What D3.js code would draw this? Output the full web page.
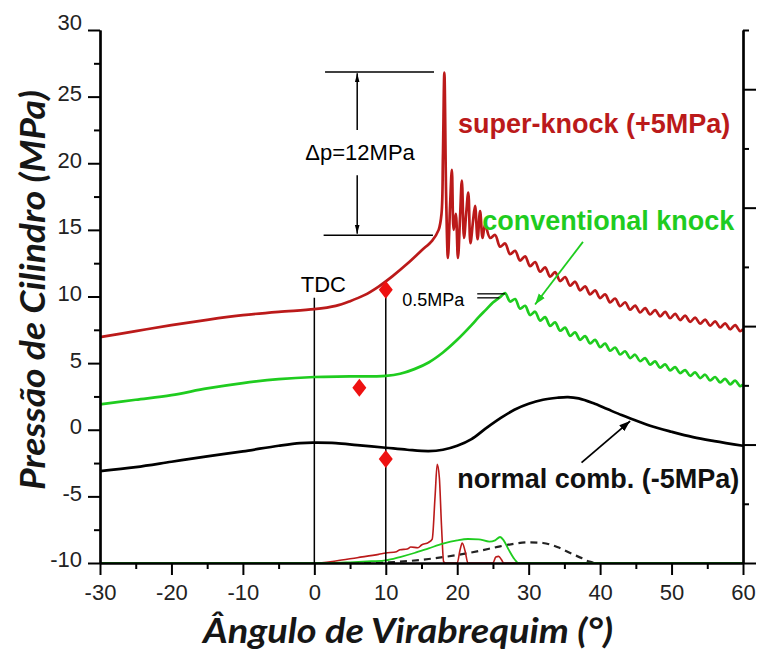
<!DOCTYPE html>
<html>
<head>
<meta charset="utf-8">
<script src="https://cdn.jsdelivr.net/npm/d3@7"></script>
<style>
body { margin: 0; background: #fff; }
svg { display: block; }
</style>
</head>
<body>
<div class="container"></div>
<script>
// tick values
var xTicks = [-30, -20, -10, 0, 10, 20, 30, 40, 50, 60];
var xMinor = [-25, -15, -5, 5, 15, 25, 35, 45, 55];
var yTicks = [-10, -5, 0, 5, 10, 15, 20, 25, 30];
var yMinor = [-7.5, -2.5, 2.5, 7.5, 12.5, 17.5, 22.5, 27.5];
var rightMajor = [0, 2, 4, 6, 8];
var rightMinor = [1, 3, 5, 7, 9];

// [angle, pressure]
var superKnock = [[-30, 6.95], [-25, 7.4], [-20, 7.85], [-15, 8.25], [-10, 8.6], [-5, 8.85], [0, 9.05], [3, 9.3], [5, 9.65], [7, 10.1], [9, 10.75], [11, 11.55], [13, 12.45], [15, 13.45], [16.5, 14.2], [17.4, 15.0], [17.8, 16.2], [18.0, 20.5], [18.2, 26.8], [18.45, 17.5], [18.7, 12.9], [19.0, 16.8], [19.25, 19.5], [19.5, 15.0], [19.8, 16.2], [20.1, 12.9], [20.4, 16.0], [20.65, 18.7], [20.95, 14.4], [21.25, 16.2], [21.55, 17.8], [21.85, 14.0], [22.2, 15.6], [22.5, 16.8], [22.85, 14.3], [23.2, 16.4], [23.55, 14.4], [23.9, 15.4],
  [24.6, 14.4], [25.3, 14.62], [26.0, 13.74], [26.7, 13.98], [27.4, 13.18], [28.1, 13.43], [28.8, 12.7], [29.5, 13.01], [30.2, 12.28], [30.9, 12.59], [31.6, 11.86], [32.3, 12.18], [33.0, 11.49], [33.7, 11.83], [34.4, 11.16], [35.1, 11.46], [35.8, 10.81], [36.5, 11.11], [37.2, 10.46], [37.9, 10.76], [38.6, 10.16], [39.3, 10.46], [40.0, 9.88], [40.7, 10.16], [41.4, 9.56], [42.1, 9.85], [42.8, 9.27], [43.5, 9.57], [44.2, 9.01], [44.9, 9.32], [45.6, 8.8], [46.3, 9.13], [47.0, 8.65], [47.7, 8.98], [48.4, 8.51], [49.1, 8.84], [49.8, 8.37], [50.5, 8.7], [51.2, 8.23], [51.9, 8.56], [52.6, 8.1], [53.3, 8.41], [54.0, 7.96], [54.7, 8.27], [55.4, 7.82], [56.1, 8.13], [56.8, 7.68], [57.5, 7.99], [58.2, 7.54], [58.9, 7.85], [59.6, 7.4], [60, 7.55]];

var convKnock = [[-30, 1.9], [-25, 2.25], [-20, 2.6], [-15, 3.1], [-10, 3.5], [-5, 3.8], [0, 3.96], [5, 4.0], [10, 4.05], [12, 4.2], [14, 4.55], [16, 5.05], [18, 5.8], [20, 6.75], [22, 7.85], [23, 8.45], [24, 9.0], [25, 9.55], [26, 9.95], [26.7, 10.25],
  [27.4, 9.62], [28.1, 9.81], [28.8, 9.09], [29.5, 9.3], [30.2, 8.61], [30.9, 8.86], [31.6, 8.19], [32.3, 8.45], [33.0, 7.8], [33.7, 8.06], [34.4, 7.43], [35.1, 7.66], [35.8, 7.05], [36.5, 7.31], [37.2, 6.75], [37.9, 7.03], [38.6, 6.48], [39.3, 6.74], [40.0, 6.2], [40.7, 6.46], [41.4, 5.93], [42.1, 6.17], [42.8, 5.65], [43.5, 5.89], [44.2, 5.38], [44.9, 5.63], [45.6, 5.14], [46.3, 5.38], [47.0, 4.89], [47.7, 5.13], [48.4, 4.66], [49.1, 4.91], [49.8, 4.45], [50.5, 4.7], [51.2, 4.25], [51.9, 4.48], [52.6, 4.05], [53.3, 4.31], [54.0, 3.88], [54.7, 4.13], [55.4, 3.7], [56.1, 3.96], [56.8, 3.55], [57.5, 3.82], [58.2, 3.41], [58.9, 3.68], [59.6, 3.27], [60, 3.4]];

var normalComb = [[-30, -3.1], [-25, -2.8], [-20, -2.4], [-15, -2.0], [-10, -1.62], [-5, -1.2], [-2, -1.0], [0, -0.97], [3, -1.0], [6, -1.15], [10, -1.35], [13, -1.5], [16, -1.6], [18, -1.5], [20, -1.2], [22, -0.7], [24, 0.1], [26, 0.85], [28, 1.5], [30, 1.95], [32, 2.25], [34, 2.4], [35.5, 2.45], [37, 2.35], [39, 2.0], [41, 1.55], [43, 1.1], [45, 0.7], [47, 0.3], [50, -0.15], [53, -0.55], [56, -0.85], [60, -1.2]];

// heat release style traces at the bottom
var superRelease = [[-30, -10], [0, -10], [3, -9.85], [6, -9.6], [9, -9.35], [10, -9.25], [11.5, -9.15], [12, -9.0], [13, -8.95], [13.5, -8.8], [14.5, -8.85], [15, -8.65], [16, -8.45], [16.5, -8.2], [16.9, -5.0], [17.2, -2.6], [17.5, -3.6], [17.8, -7.2], [18.1, -9.9], [18.4, -10], [20.0, -10], [20.4, -9.0], [20.7, -8.5], [21.1, -9.1], [21.5, -10], [25.0, -10], [25.4, -9.55], [25.8, -9.5], [26.2, -9.75], [26.5, -10], [60, -10]];
var convRelease = [[-30, -10], [2, -10], [5, -9.95], [8, -9.87], [10, -9.8], [12, -9.55], [14, -9.25], [16, -8.9], [18, -8.55], [20, -8.3], [21.5, -8.2], [23, -8.22], [24.5, -8.4], [25.3, -8.3], [26, -8.05], [26.5, -8.3], [27.2, -9.0], [28, -9.7], [28.6, -10], [60, -10]];
var normalRelease = [[-30, -10], [8, -10], [12, -9.9], [16, -9.7], [20, -9.4], [23, -9.1], [26, -8.75], [28, -8.55], [30, -8.45], [32, -8.5], [34, -8.8], [36, -9.3], [37.5, -9.65], [38.5, -9.9], [39.5, -10], [60, -10]];

var diamonds = [[6.3, 3.15], [10, -2.2], [10, 10.5]];
var guideAngles = [0, 10];
var guideTops = [9.9, 10.5];

var width = 758,
    height = 655;

var svg = d3.select("div.container").append("svg")
    .attr("width", width)
    .attr("height", height);

var x = d3.scaleLinear().domain([-30, 60]).range([100, 743]);
var y = d3.scaleLinear().domain([-10, 30]).range([563, 30]);
var yRight = d3.scaleLinear().domain([0, 9]).range([563, 30]);

var darkRed = "#bb1a1a",
    green = "#1fcc1f";

var defs = svg.append("defs");
function marker(id, color, len, half) {
    defs.append("marker")
        .attr("id", id)
        .attr("viewBox", "0 -5 10 10")
        .attr("refX", 10)
        .attr("markerUnits", "userSpaceOnUse")
        .attr("markerWidth", len)
        .attr("markerHeight", len)
        .attr("orient", "auto")
        .append("path")
        .attr("d", "M0,-" + half + "L10,0L0," + half + "Z")
        .attr("fill", color);
}
marker("tip", "#000", 9, 2.6);
marker("tipBlack", "#000", 11, 3.5);
marker("tipGreen", green, 11, 3.5);

var line = d3.line()
    .x(function(d) { return x(d[0]); })
    .y(function(d) { return y(d[1]); })
    .curve(d3.curveMonotoneX);

var smooth = d3.line()
    .x(function(d) { return x(d[0]); })
    .y(function(d) { return y(d[1]); })
    .curve(d3.curveCatmullRom.alpha(0.5));

// bottom traces
svg.append("path").datum(normalRelease)
    .attr("d", line).attr("fill", "none")
    .attr("stroke", "#222").attr("stroke-width", 2.2)
    .attr("stroke-dasharray", "7,5");
svg.append("path").datum(superRelease)
    .attr("d", line).attr("fill", "none")
    .attr("stroke", darkRed).attr("stroke-width", 1.6);
svg.append("path").datum(convRelease)
    .attr("d", line).attr("fill", "none")
    .attr("stroke", green).attr("stroke-width", 1.8);

// TDC and 10 deg guides
svg.selectAll(".guide")
    .data(guideAngles)
    .enter().append("line")
    .attr("class", "guide")
    .attr("x1", function(d) { return x(d); })
    .attr("x2", function(d) { return x(d); })
    .attr("y1", y(-10))
    .attr("y2", function(d, i) { return y(guideTops[i]); })
    .attr("stroke", "#000")
    .attr("stroke-width", 1.5);

// main pressure curves
svg.append("path").datum(normalComb)
    .attr("d", smooth).attr("fill", "none")
    .attr("stroke", "#000").attr("stroke-width", 2.7);
svg.append("path").datum(convKnock)
    .attr("d", smooth).attr("fill", "none")
    .attr("stroke", green).attr("stroke-width", 2.7);
svg.append("path").datum(superKnock)
    .attr("d", smooth).attr("fill", "none")
    .attr("stroke", darkRed).attr("stroke-width", 2.7);

svg.selectAll(".diamond")
    .data(diamonds)
    .enter().append("path")
    .attr("class", "diamond")
    .attr("d", "M0,-9L7,0L0,9L-7,0Z")
    .attr("transform", function(d) { return "translate(" + x(d[0]) + "," + y(d[1]) + ")"; })
    .attr("fill", "#ee1111");

// delta p annotation
var dp = svg.append("g").attr("stroke", "#000").attr("stroke-width", 1.5);
dp.append("line").attr("x1", x(1.5)).attr("x2", x(16.75)).attr("y1", y(26.85)).attr("y2", y(26.85));
dp.append("line").attr("x1", x(1.3)).attr("x2", x(16.6)).attr("y1", y(14.6)).attr("y2", y(14.6));
dp.append("line").attr("x1", x(6)).attr("x2", x(6)).attr("y1", y(22.5)).attr("y2", y(26.75))
    .attr("marker-end", "url(#tip)");
dp.append("line").attr("x1", x(6)).attr("x2", x(6)).attr("y1", y(19.1)).attr("y2", y(14.7))
    .attr("marker-end", "url(#tip)");

var sans = "'Liberation Sans', Arial, sans-serif";

svg.append("text")
    .attr("x", x(6.4)).attr("y", y(20.25))
    .attr("text-anchor", "middle")
    .style("font", "22px " + sans)
    .text("\u0394p=12MPa");

svg.append("text")
    .attr("x", x(-1.9)).attr("y", y(10.35))
    .style("font", "22px " + sans)
    .text("TDC");

// 0.5 MPa ripple marker
svg.append("text")
    .attr("x", x(12.3)).attr("y", y(9.3))
    .style("font", "18px " + sans)
    .text("0.5MPa");
svg.append("line").attr("x1", x(22.8)).attr("x2", x(26.7)).attr("y1", y(10.2)).attr("y2", y(10.2))
    .attr("stroke", "#000").attr("stroke-width", 1.3);
svg.append("line").attr("x1", x(22.8)).attr("x2", x(25.9)).attr("y1", y(9.9)).attr("y2", y(9.9))
    .attr("stroke", "#000").attr("stroke-width", 1.3);

// series labels
svg.append("text")
    .attr("x", x(20.1)).attr("y", y(22.3))
    .style("font", "bold 27px " + sans)
    .attr("fill", darkRed)
    .text("super-knock (+5MPa)");
svg.append("text")
    .attr("x", x(23.5)).attr("y", y(15.0))
    .style("font", "bold 27px " + sans)
    .attr("fill", green)
    .text("conventional knock");
svg.append("text")
    .attr("x", x(20.0)).attr("y", y(-4.4))
    .style("font", "bold 27px " + sans)
    .attr("fill", "#111")
    .text("normal comb. (-5MPa)");

svg.append("line")
    .attr("x1", x(37.6)).attr("y1", y(14.1))
    .attr("x2", x(30.9)).attr("y2", y(9.4))
    .attr("stroke", green).attr("stroke-width", 1.8)
    .attr("marker-end", "url(#tipGreen)");
svg.append("line")
    .attr("x1", x(37.4)).attr("y1", y(-2.47))
    .attr("x2", x(44.2)).attr("y2", y(0.65))
    .attr("stroke", "#000").attr("stroke-width", 1.8)
    .attr("marker-end", "url(#tipBlack)");

// axes
function plain(d) { return String(d); }
function styleAxis(g) {
    g.selectAll("path.domain").attr("stroke", "#000").attr("stroke-width", 2.2);
    g.selectAll(".tick line").attr("stroke", "#000").attr("stroke-width", 2);
    g.selectAll("text").style("font", "22px " + sans).attr("fill", "#222");
}

svg.append("g")
    .attr("transform", "translate(0," + y(-10) + ")")
    .call(d3.axisBottom(x).tickValues(xTicks).tickFormat(plain).tickSize(12).tickSizeOuter(0).tickPadding(9))
    .call(styleAxis);
svg.append("g")
    .attr("transform", "translate(0," + y(-10) + ")")
    .call(d3.axisBottom(x).tickValues(xMinor).tickSize(6).tickFormat("").tickSizeOuter(0))
    .call(styleAxis);

var yAxis = svg.append("g")
    .attr("transform", "translate(" + x(-30) + ",0)")
    .call(d3.axisLeft(y).tickValues(yTicks).tickFormat(plain).tickSize(12).tickSizeOuter(0).tickPadding(6))
    .call(styleAxis);
yAxis.selectAll(".tick text").attr("dy", function(d) { return d === 30 ? "-0.02em" : "0.18em"; });
svg.append("g")
    .attr("transform", "translate(" + x(-30) + ",0)")
    .call(d3.axisLeft(y).tickValues(yMinor).tickSize(6).tickFormat("").tickSizeOuter(0))
    .call(styleAxis);

svg.append("g")
    .attr("transform", "translate(" + x(60) + ",0)")
    .call(d3.axisRight(yRight).tickValues(rightMajor).tickSize(13).tickFormat("").tickSizeOuter(0))
    .call(styleAxis);
svg.append("g")
    .attr("transform", "translate(" + x(60) + ",0)")
    .call(d3.axisRight(yRight).tickValues(rightMinor).tickSize(6).tickFormat("").tickSizeOuter(0))
    .call(styleAxis);

// axis titles
svg.append("text")
    .attr("transform", "translate(" + 45 + "," + 290 + ") rotate(-90)")
    .attr("text-anchor", "middle")
    .attr("textLength", 400)
    .attr("lengthAdjust", "spacingAndGlyphs")
    .style("font", "italic bold 34px Lato, 'Open Sans', sans-serif")
    .attr("fill", "#161616")
    .text("Pressão de Cilindro (MPa)");

svg.append("text")
    .attr("x", 408).attr("y", 643)
    .attr("text-anchor", "middle")
    .attr("textLength", 410)
    .attr("lengthAdjust", "spacingAndGlyphs")
    .style("font", "italic bold 34px Lato, 'Open Sans', sans-serif")
    .attr("fill", "#161616")
    .text("Ângulo de Virabrequim (°)");
</script>
</body>
</html>
